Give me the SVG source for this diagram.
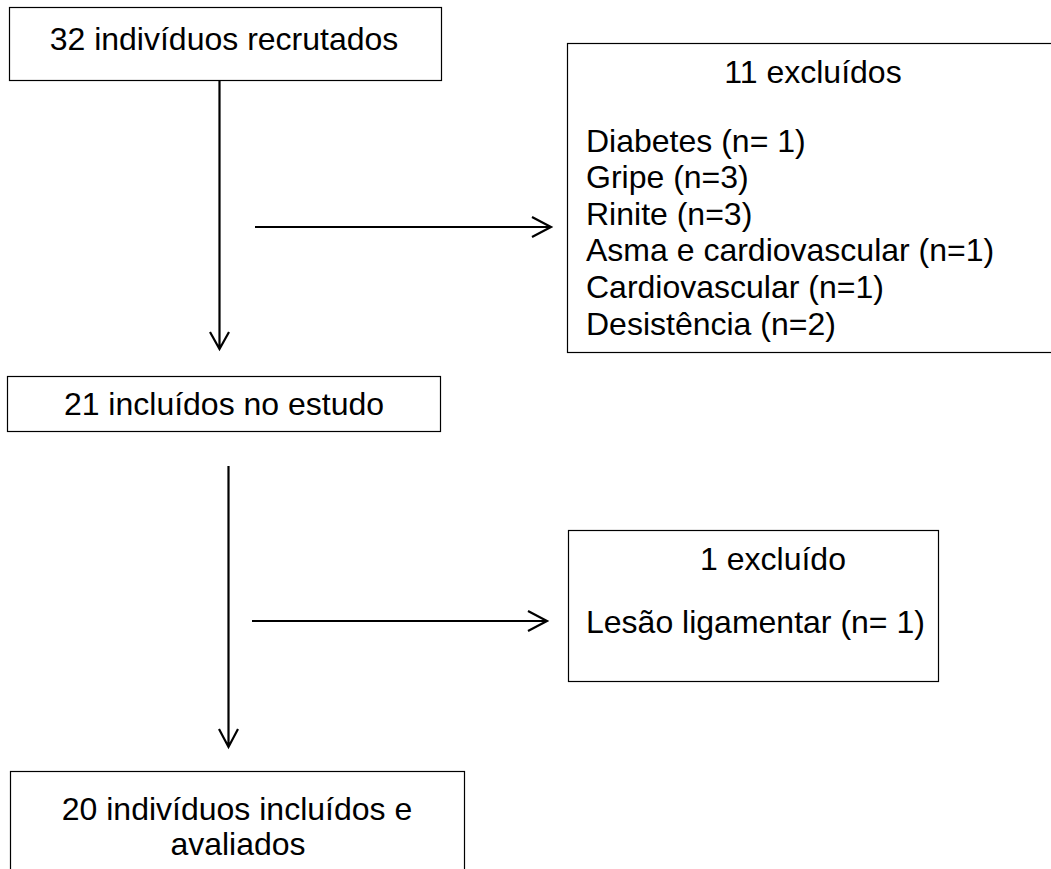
<svg xmlns="http://www.w3.org/2000/svg" width="1051" height="869" viewBox="0 0 1051 869">
<style>
.box{fill:#fff;stroke:#000;stroke-width:1.2}
.t{font-family:"Liberation Sans",Arial,sans-serif;font-size:32px;fill:#000}
.c{text-anchor:middle}
.ln{stroke:#000;stroke-width:2.2;fill:none}
</style>
<rect width="1051" height="869" fill="#fff"/>
<g id="recrutados">
<rect class="box" x="9.5" y="7.5" width="432" height="73"/>
<text class="t c" x="224" y="50">32 indivíduos recrutados</text>
</g>
<g id="excluidos11">
<rect class="box" x="567.5" y="43.5" width="495" height="309"/>
<text class="t c" x="813" y="83">11 excluídos</text>
<text class="t" x="586" y="152">Diabetes (n= 1)</text>
<text class="t" x="586" y="188">Gripe (n=3)</text>
<text class="t" x="586" y="225">Rinite (n=3)</text>
<text class="t" x="586" y="261">Asma e cardiovascular (n=1)</text>
<text class="t" x="586" y="298">Cardiovascular (n=1)</text>
<text class="t" x="586" y="335">Desistência (n=2)</text>
</g>
<g id="incluidos21">
<rect class="box" x="7.5" y="376.5" width="433" height="55"/>
<text class="t c" x="224" y="415">21 incluídos no estudo</text>
</g>
<g id="excluido1">
<rect class="box" x="568.5" y="530.5" width="370" height="151"/>
<text class="t c" x="773" y="570">1 excluído</text>
<text class="t" x="586" y="633">Lesão ligamentar (n= 1)</text>
</g>
<g id="avaliados20">
<rect class="box" x="10.5" y="771.5" width="454" height="110"/>
<text class="t c" x="237" y="820">20 indivíduos incluídos e</text>
<text class="t c" x="238" y="855">avaliados</text>
</g>
<g id="connectors">
<path class="ln" d="M219.5 81 V349 M210 332 L219.5 349 L229 332"/>
<path class="ln" d="M255 227 H551 M532 217 L551 227 L532 237"/>
<path class="ln" d="M228.5 466 V747 M219 729 L228.5 747 L238 729"/>
<path class="ln" d="M252 621 H547 M528 611 L547 621 L528 631"/>
</g>
</svg>
